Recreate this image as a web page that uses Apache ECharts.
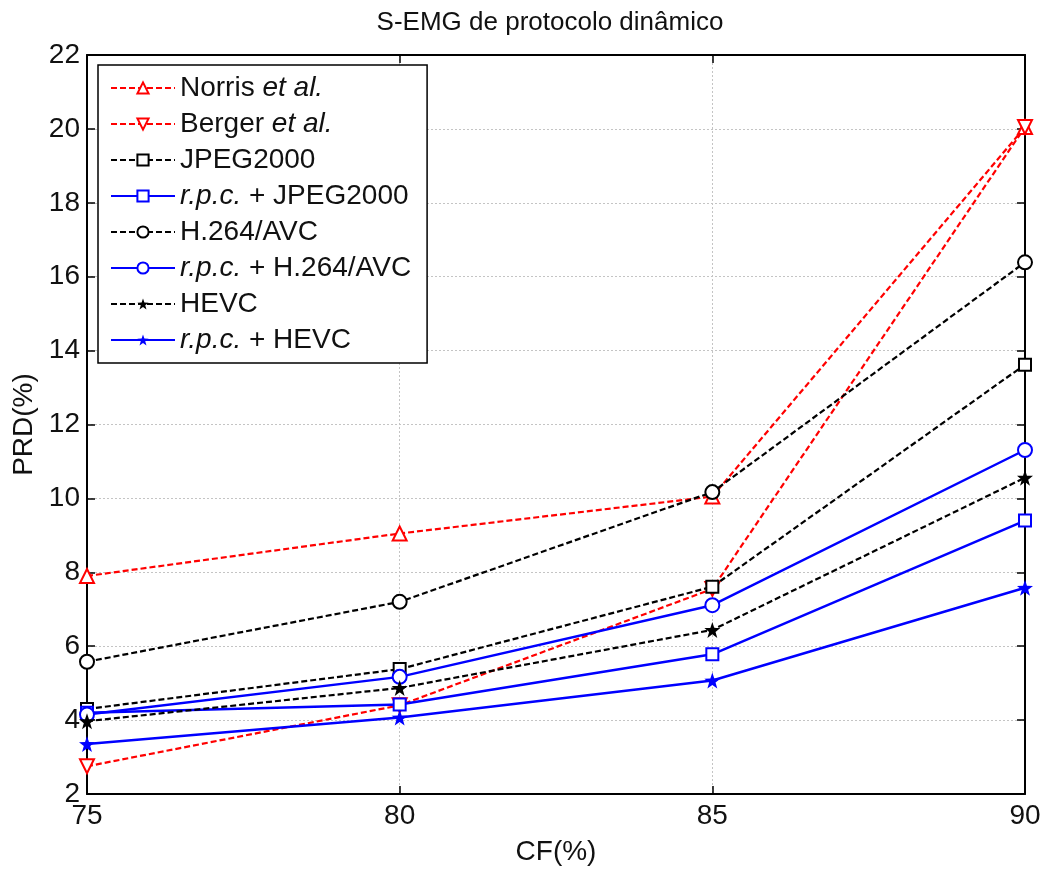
<!DOCTYPE html>
<html>
<head>
<meta charset="utf-8">
<script src="https://cdn.jsdelivr.net/npm/echarts@6/dist/echarts.min.js"></script>
<style>
    html, body { margin: 0; padding: 0; background: #fff; }
    #myChart { width: 1046px; height: 871px; }
</style>
</head>
<body>
<div id="myChart"></div>
<script>
    // CF(%) values on the x axis
    const cfValues = [75, 80, 85, 90]
    // PRD(%)
    const norris = [7.9, 9.05, 10.05, 20.05]
    const berger = [2.75, 4.4, 7.55, 20.05]
    const jpeg2000 = [4.3, 5.38, 7.61, 13.62]
    const rpcJpeg2000 = [4.2, 4.42, 5.78, 9.4]
    const h264 = [5.58, 7.2, 10.17, 16.39]
    const rpcH264 = [4.15, 5.17, 7.11, 11.31]
    const hevc = [3.97, 4.87, 6.44, 10.56]
    const rpcHevc = [3.35, 4.07, 5.07, 7.58]

    const FONT = '"Liberation Sans", Arial, Helvetica, sans-serif'
    const STAR = 'path://M0,-10 L2.35,-3.24 L9.51,-3.09 L3.8,1.24 L5.88,8.09 L0,4 L-5.88,8.09 L-3.8,1.24 L-9.51,-3.09 L-2.35,-3.24 Z'

    function pairs(vals) {
        return cfValues.map((x, i) => [x, vals[i]])
    }

    function makeSeries(name, vals, color, dashed, symbol, size, rotate) {
        return {
            name: name,
            type: 'line',
            data: pairs(vals),
            symbol: symbol,
            symbolSize: size,
            symbolRotate: rotate || 0,
            showAllSymbol: true,
            lineStyle: {color: color, width: dashed ? 2.2 : 2.5, type: dashed ? [6, 3] : 'solid'},
            itemStyle: {color: color, borderWidth: 2},
            emphasis: {disabled: true},
            animation: false,
            z: 3
        }
    }

    const option = {
        backgroundColor: '#fff',
        title: {
            text: 'S-EMG de protocolo dinâmico',
            left: 545, top: 5, textAlign: 'center',
            textStyle: {fontFamily: FONT, fontSize: 26, fontWeight: 'normal', color: '#111'}
        },
        grid: {left: 87, right: 21, top: 55, bottom: 74},
        legend: {
            left: 98, top: 65,
            orient: 'vertical',
            backgroundColor: '#fff',
            borderColor: '#000',
            borderWidth: 1.5,
            borderRadius: 0,
            padding: [9, 16, 9, 12],
            itemWidth: 64,
            itemHeight: 14,
            itemGap: 8,
            selectedMode: false,
            textStyle: {
                fontFamily: FONT, fontSize: 28, color: '#111', lineHeight: 28,
                rich: {
                    n: {fontFamily: FONT, fontSize: 28, color: '#111', lineHeight: 28},
                    i: {fontFamily: FONT, fontSize: 28, color: '#111', fontStyle: 'italic', lineHeight: 28}
                }
            },
            formatter: function (name) {
                const labels = {
                    'Norris': '{n|Norris }{i|et al.}',
                    'Berger': '{n|Berger }{i|et al.}',
                    'JPEG2000': '{n|JPEG2000}',
                    'rpcJPEG': '{i|r.p.c.}{n| + JPEG2000}',
                    'H264': '{n|H.264/AVC}',
                    'rpcH264': '{i|r.p.c.}{n| + H.264/AVC}',
                    'HEVC': '{n|HEVC}',
                    'rpcHEVC': '{i|r.p.c.}{n| + HEVC}'
                }
                return labels[name]
            },
            data: ['Norris', 'Berger', 'JPEG2000', 'rpcJPEG', 'H264', 'rpcH264', 'HEVC', 'rpcHEVC']
        },
        xAxis: [
            {
                type: 'value', min: 75, max: 90, interval: 5,
                name: 'CF(%)', nameLocation: 'middle', nameGap: 44,
                nameTextStyle: {fontFamily: FONT, fontSize: 28, color: '#111'},
                axisLine: {lineStyle: {color: '#000', width: 2}},
                axisTick: {inside: true, length: 8, lineStyle: {color: '#000', width: 1.5}},
                axisLabel: {fontFamily: FONT, fontSize: 28, color: '#111', margin: 8},
                splitLine: {show: true, lineStyle: {color: '#c4c4c4', type: [2, 2], width: 1}}
            },
            {
                type: 'value', min: 75, max: 90, interval: 5, position: 'top',
                axisLine: {lineStyle: {color: '#000', width: 2}},
                axisTick: {inside: true, length: 8, lineStyle: {color: '#000', width: 1.5}},
                axisLabel: {show: false},
                splitLine: {show: false}
            }
        ],
        yAxis: [
            {
                type: 'value', min: 2, max: 22, interval: 2,
                name: 'PRD(%)', nameLocation: 'middle', nameGap: 48,
                nameTextStyle: {fontFamily: FONT, fontSize: 28, color: '#111'},
                axisLine: {show: true, lineStyle: {color: '#000', width: 2}},
                axisTick: {show: true, inside: true, length: 8, lineStyle: {color: '#000', width: 1.5}},
                axisLabel: {fontFamily: FONT, fontSize: 28, color: '#111', margin: 7},
                splitLine: {show: true, lineStyle: {color: '#c4c4c4', type: [2, 2], width: 1}}
            },
            {
                type: 'value', min: 2, max: 22, interval: 2, position: 'right',
                axisLine: {show: true, lineStyle: {color: '#000', width: 2}},
                axisTick: {show: true, inside: true, length: 8, lineStyle: {color: '#000', width: 1.5}},
                axisLabel: {show: false},
                splitLine: {show: false}
            }
        ],
        series: [
            makeSeries('Norris', norris, '#ff0000', true, 'emptyTriangle', 14, 0),
            makeSeries('Berger', berger, '#ff0000', true, 'emptyTriangle', 14, 180),
            makeSeries('JPEG2000', jpeg2000, '#000000', true, 'emptyRect', 12, 0),
            makeSeries('rpcJPEG', rpcJpeg2000, '#0000ff', false, 'emptyRect', 12, 0),
            makeSeries('H264', h264, '#000000', true, 'emptyCircle', 14, 0),
            makeSeries('rpcH264', rpcH264, '#0000ff', false, 'emptyCircle', 14, 0),
            makeSeries('HEVC', hevc, '#000000', true, STAR, 16, 0),
            makeSeries('rpcHEVC', rpcHevc, '#0000ff', false, STAR, 16, 0)
        ]
    }

    let myChart = echarts.init(document.getElementById('myChart'), null, {renderer: 'canvas'})
    myChart.setOption(option)
</script>
</body>
</html>
